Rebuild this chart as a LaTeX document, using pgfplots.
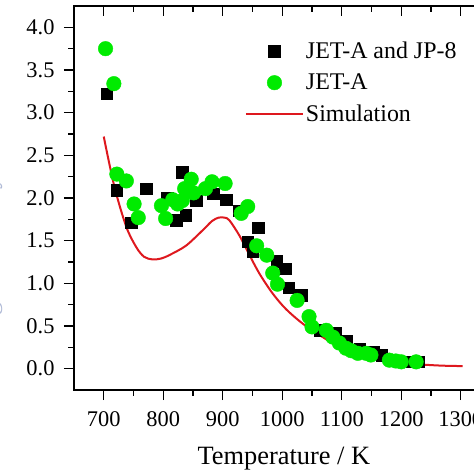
\documentclass[border=0pt]{standalone}
\usepackage{pgfplots}
\pgfplotsset{compat=1.18}
\usepackage{fontspec}
\setmainfont{Liberation Serif}
\definecolor{simred}{RGB}{222,24,30}
\definecolor{ptgreen}{RGB}{0,235,0}
\definecolor{faintlab}{RGB}{176,186,214}
\begin{document}
\begin{tikzpicture}
\begin{axis}[
  at={(0,0)}, anchor=south west,
  scale only axis, width=416.5bp, height=384bp,
  xmin=650, xmax=1350, ymin=-0.25, ymax=4.25,
  xtick={700,800,...,1300}, minor x tick num=1,
  ytick={0,0.5,...,4.0}, minor y tick num=1,
  xtick pos=bottom, ytick pos=left,
  tick align=outside,
  major tick length=10bp, minor tick length=5.5bp,
  every tick/.style={black, line width=1.4bp},
  axis line style={line width=1.6bp},
  /pgf/number format/assume math mode=true,
  xticklabel style={/pgf/number format/1000 sep={}, yshift=-8bp},
  yticklabel style={/pgf/number format/fixed, /pgf/number format/fixed zerofill, /pgf/number format/precision=1, xshift=-6bp},
  tick label style={font=\fontsize{22.5}{24}\selectfont},
  xlabel={Temperature / K},
  xlabel style={font=\fontsize{26.5}{28}\selectfont, at={(axis description cs:0.504,0)}, anchor=base, yshift=-74bp},
  ylabel={Ignition delay time / ms},
  ylabel style={font=\fontsize{26.5}{28}\selectfont, color=faintlab, at={(axis description cs:-0.186,0.5)}, anchor=base},
  legend image code/.code={\draw[mark repeat=2,mark phase=2,#1] plot coordinates {(0bp,0bp)(28.5bp,0bp)(57bp,0bp)};},
  legend style={draw=none, fill=none, font=\fontsize{24}{24}\selectfont, at={(axis description cs:0.41,0.912)}, anchor=north west, inner xsep=0pt, inner ysep=0pt, row sep=10bp},
  legend cell align=left,
]
\addplot[only marks, mark=square*, mark size=5.8bp, mark options={fill=black, draw=black}] coordinates {
(705,3.22) (722,2.09) (746,1.71) (771,2.11) (807,2.00) (822,1.74) (832,2.30) (838,1.80)
(855,1.97) (884,2.05) (906,1.98) (927,1.85) (942,1.49) (950,1.38) (960,1.65) (991,1.26)
(1005,1.17) (1011,0.95) (1032,0.86) (1063,0.45) (1090,0.42) (1108,0.33) (1130,0.23)
(1153,0.19) (1167,0.16) (1218,0.08) (1229,0.08)
};
\addlegendentry{JET-A and JP-8}
\addplot[only marks, mark=*, mark size=7.3bp, mark options={fill=ptgreen, draw=ptgreen}] coordinates {
(703,3.75) (717,3.34) (722,2.28) (738,2.20) (751,1.93) (758,1.77) (797,1.91) (804,1.76)
(816,1.98) (824,1.93) (832,1.97) (836,2.11) (847,2.22) (851,2.06) (871,2.11) (882,2.19)
(904,2.17) (931,1.82) (942,1.90) (957,1.44) (974,1.33) (984,1.12) (992,0.99) (1025,0.80)
(1045,0.61) (1050,0.49) (1074,0.45) (1085,0.37) (1096,0.30) (1107,0.24) (1116,0.21)
(1127,0.18) (1141,0.18) (1149,0.16) (1180,0.10) (1191,0.09) (1200,0.08) (1225,0.08)
};
\addlegendentry{JET-A}
\addplot[simred, line width=2bp, smooth, no marks] coordinates {
(700,2.72) (718,2.13) (738,1.66) (755,1.42) (768,1.31) (782,1.28) (796,1.29) (810,1.33)
(838,1.44) (866,1.62) (882,1.73) (893,1.77) (903,1.77) (911,1.74) (928,1.56) (945,1.33)
(962,1.11) (984,0.88) (1006,0.70) (1034,0.53) (1068,0.37) (1102,0.23) (1130,0.17)
(1163,0.105) (1214,0.06) (1242,0.045) (1270,0.035) (1303,0.03)
};
\addlegendentry{Simulation}
\end{axis}
\begin{axis}[
  at={(0,0)}, anchor=south west,
  scale only axis, width=416.5bp, height=384bp,
  xmin=650, xmax=1350, ymin=-0.25, ymax=4.25,
  xtick={700,800,...,1300}, minor x tick num=1,
  ytick=\empty, xticklabels={},
  xtick pos=top, tick align=inside,
  major tick length=10bp, minor tick length=6bp,
  every tick/.style={black, line width=1.4bp},
  axis line style={draw=none},
]
\end{axis}
\pgfresetboundingbox
\useasboundingbox (-74bp,-84bp) rectangle (400bp,390bp);
\end{tikzpicture}
\end{document}
